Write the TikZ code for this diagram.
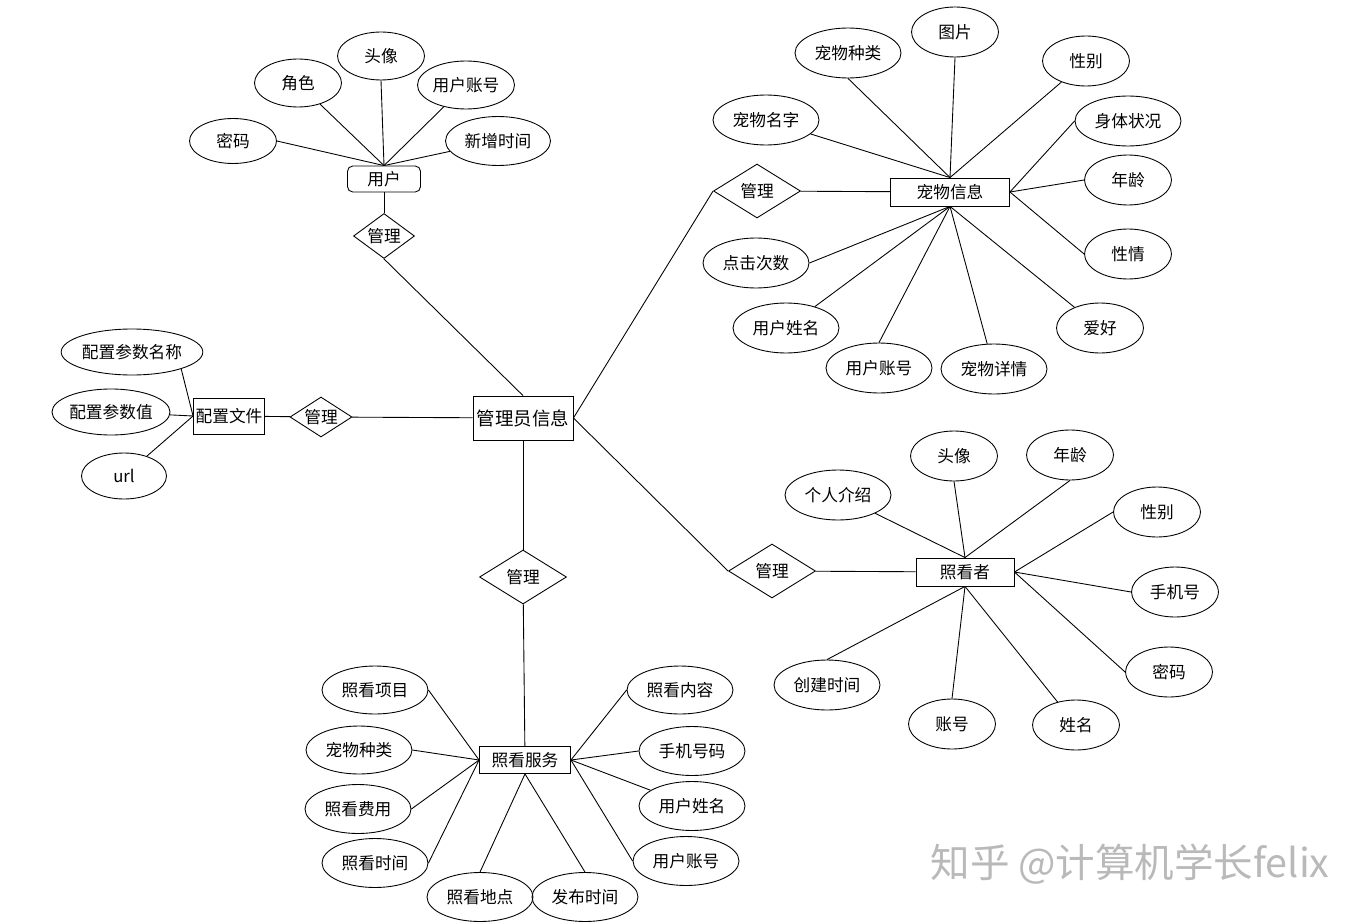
\documentclass[tikz,border=0pt]{standalone}
\usepackage{fontspec}
\setmainfont{Noto Sans CJK SC}
\usetikzlibrary{shapes.geometric}

\begin{document}
\begin{tikzpicture}[
  x=0.02cm, y=-0.02cm,
  font=\fontsize{9.5}{11}\selectfont,
  line width=0.5pt,
  entity/.style={draw, rectangle, inner sep=0pt, minimum width=1.9cm, minimum height=0.56cm},
  attr/.style={draw, ellipse, inner sep=0pt, minimum width=1.74cm, minimum height=1cm},
  wideattr/.style={attr, minimum width=2.12cm},
  rel/.style={draw, diamond, aspect=1.5, inner sep=0pt, minimum width=1.74cm, minimum height=1.08cm},
  watermark/.style={text=gray!55, font=\fontsize{22.5}{26}\selectfont}
]
\useasboundingbox (0,0) rectangle (1371,922);

\node[entity, font=\fontsize{10.5}{12}\selectfont, minimum width=2cm, minimum height=0.88cm] (admin) at (523,418) {管理员信息};

\node[entity, rounded corners=3pt, minimum width=1.46cm, minimum height=0.52cm] (user) at (384,179) {用户};
\node[rel, minimum width=1.22cm, minimum height=0.9cm] (userrel) at (384,236) {管理};
\node[attr, minimum height=0.9cm] (userpwd) at (233,141) {密码};
\node[attr, minimum height=0.96cm] (userrole) at (298,83) {角色};
\node[attr, minimum height=0.96cm] (useravatar) at (381,56) {头像};
\node[attr, minimum width=1.94cm, minimum height=0.96cm] (useracct) at (466,85) {用户账号};
\node[wideattr, minimum width=2.1cm, minimum height=0.98cm] (usertime) at (498,141) {新增时间};

\node[entity, minimum width=1.42cm, minimum height=0.72cm] (cfg) at (229,416) {配置文件};
\node[rel, minimum width=1.24cm, minimum height=0.8cm] (cfgrel) at (321,417) {管理};
\node[attr, minimum width=2.3cm, minimum height=0.92cm] (cfgname) at (132,352) {配置参数名称};
\node[attr, minimum width=2.36cm, minimum height=0.92cm] (cfgvalue) at (111,412) {配置参数值};
\node[attr, minimum width=1.7cm, minimum height=0.92cm] (cfgurl) at (124,476) {url};

\node[entity, minimum width=2.38cm] (pet) at (950,192) {宠物信息};
\node[rel] (petrel) at (757,191) {管理};
\node[wideattr] (petkind) at (848,53) {宠物种类};
\node[attr] (petpic) at (955,32) {图片};
\node[attr] (petsex) at (1086,61) {性别};
\node[wideattr] (petname) at (766,120) {宠物名字};
\node[wideattr] (petbody) at (1128,121) {身体状况};
\node[attr] (petage) at (1128,180) {年龄};
\node[attr] (pettemper) at (1128,254) {性情};
\node[wideattr] (petclicks) at (756,263) {点击次数};
\node[wideattr] (petuname) at (786,328) {用户姓名};
\node[wideattr] (petuacct) at (879,368) {用户账号};
\node[wideattr] (petdetail) at (994,369) {宠物详情};
\node[attr] (pethobby) at (1100,328) {爱好};

\node[entity, minimum width=1.96cm] (carer) at (965,572) {照看者};
\node[rel] (carerrel) at (772,571) {管理};
\node[wideattr] (carerintro) at (838,495) {个人介绍};
\node[attr] (careravatar) at (954,456) {头像};
\node[attr] (carerage) at (1070,455) {年龄};
\node[attr] (carersex) at (1157,512) {性别};
\node[attr] (carerphone) at (1175,592) {手机号};
\node[attr] (carerpwd) at (1169,672) {密码};
\node[wideattr] (carertime) at (827,685) {创建时间};
\node[attr] (careracct) at (952,724) {账号};
\node[attr] (carername) at (1076,725) {姓名};

\node[entity, minimum width=1.82cm, minimum height=0.54cm] (svc) at (525,760) {照看服务};
\node[rel] (svcrel) at (523,577) {管理};
\node[wideattr, minimum height=0.96cm] (svcitem) at (375,690) {照看项目};
\node[wideattr, minimum height=0.96cm] (svckind) at (359,750) {宠物种类};
\node[wideattr, minimum height=0.98cm] (svcfee) at (358,809) {照看费用};
\node[wideattr, minimum height=0.98cm] (svctime) at (375,863) {照看时间};
\node[wideattr, minimum height=0.98cm] (svcplace) at (480,897) {照看地点};
\node[wideattr, minimum height=0.98cm] (svcpub) at (585,897) {发布时间};
\node[wideattr, minimum height=0.96cm] (svccontent) at (680,690) {照看内容};
\node[wideattr, minimum height=0.98cm] (svcphone) at (692,751) {手机号码};
\node[wideattr, minimum height=0.98cm] (svcuname) at (692,806) {用户姓名};
\node[wideattr, minimum height=0.98cm] (svcuacct) at (686,861) {用户账号};

\node[watermark] (mark) at (1130,864) {知乎 @计算机学长felix};

\draw (userpwd.east) -- (user.north);
\draw (userrole) -- (user.north);
\draw (useravatar.south) -- (user.north);
\draw (useracct) -- (user.north);
\draw (usertime) -- (user.north);
\draw (user) -- (userrel);
\draw (userrel.south) -- (admin.north);

\draw (cfgname.-19) -- (cfg.west);
\draw (cfgvalue) -- (cfg.west);
\draw (cfgurl) -- (cfg.west);
\draw (cfg) -- (cfgrel);
\draw (cfgrel) -- (admin);

\draw (admin.east) -- (petrel.west);
\draw (petrel) -- (pet);
\draw (petname) -- (pet.north);
\draw (petkind.south) -- (pet.north);
\draw (petpic.south) -- (pet.north);
\draw (petsex) -- (pet.north);
\draw (petbody.west) -- (pet.east);
\draw (petage.west) -- (pet.east);
\draw (pettemper.west) -- (pet.east);
\draw (petclicks.east) -- (pet.south);
\draw (petuname) -- (pet.south);
\draw (petuacct.north) -- (pet.south);
\draw (petdetail) -- (pet.south);
\draw (pethobby) -- (pet.south);

\draw (admin.east) -- (carerrel.west);
\draw (carerrel) -- (carer);
\draw (carerintro) -- (carer.north);
\draw (careravatar.south) -- (carer.north);
\draw (carerage.south) -- (carer.north);
\draw (carersex.west) -- (carer.east);
\draw (carerphone.west) -- (carer.east);
\draw (carerpwd.west) -- (carer.east);
\draw (carertime.north) -- (carer.south);
\draw (careracct.north) -- (carer.south);
\draw (carername) -- (carer.south);

\draw (admin) -- (svcrel);
\draw (svcrel) -- (svc);
\draw (svcitem.east) -- (svc.west);
\draw (svckind.east) -- (svc.west);
\draw (svcfee.east) -- (svc.west);
\draw (svctime.east) -- (svc.west);
\draw (svcplace.north) -- (svc.south);
\draw (svcpub.north) -- (svc.south);
\draw (svccontent.west) -- (svc.east);
\draw (svcphone.west) -- (svc.east);
\draw (svcuname) -- (svc.east);
\draw (svcuacct.west) -- (svc.east);
\end{tikzpicture}
\end{document}
